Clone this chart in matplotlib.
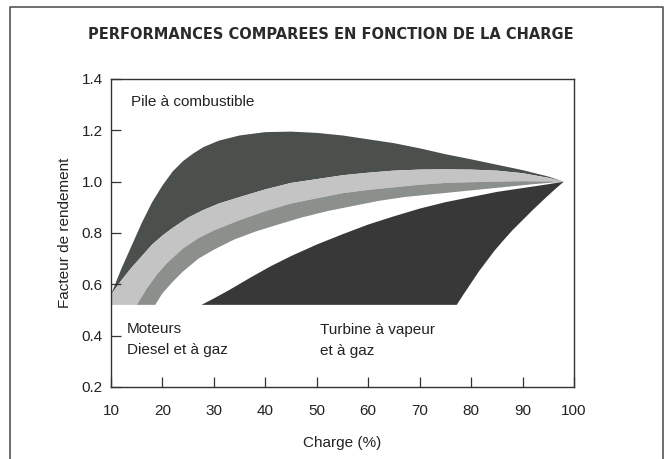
import matplotlib.pyplot as plt
from matplotlib.lines import Line2D

# ============================================================
# DATA
# ============================================================

# fuel cell band : upper edge
pile_top_x = [10.2, 12, 14, 16, 18, 20, 22, 24, 26, 28, 31, 35, 40, 45,
              50, 55, 60, 65, 70, 75, 80, 85, 90, 95, 98]
pile_top_y = [0.57, 0.66, 0.75, 0.84, 0.92, 0.985, 1.04, 1.08, 1.11,
              1.135, 1.16, 1.18, 1.193, 1.195, 1.19, 1.18, 1.165, 1.15,
              1.13, 1.107, 1.087, 1.066, 1.045, 1.02, 1.0]

# fuel cell band : lower edge (= top of light band)
pile_bot_x = [10.2, 12, 14, 16, 18, 20, 22, 25, 28, 31, 35, 40, 45, 50,
              55, 60, 65, 70, 75, 80, 85, 90, 95, 98]
pile_bot_y = [0.565, 0.615, 0.665, 0.71, 0.755, 0.79, 0.82, 0.86, 0.89,
              0.915, 0.94, 0.97, 0.995, 1.01, 1.025, 1.035, 1.043, 1.047,
              1.048, 1.047, 1.043, 1.033, 1.015, 1.0]

# light / medium boundary
mid_top_x = [15, 17, 19, 21, 24, 27, 30, 35, 40, 45, 50, 55, 60, 65, 70,
             75, 80, 85, 90, 95, 98]
mid_top_y = [0.52, 0.585, 0.64, 0.685, 0.74, 0.78, 0.81, 0.85, 0.885,
             0.915, 0.935, 0.955, 0.968, 0.978, 0.988, 0.995, 0.998, 1.0,
             1.002, 1.001, 1.0]

# medium band : lower edge
mid_bot_x = [18.6, 20, 22, 24, 27, 30, 34, 38, 42, 47, 52, 57, 62, 67, 72,
             77, 82, 87, 92, 98]
mid_bot_y = [0.52, 0.565, 0.61, 0.65, 0.70, 0.735, 0.775, 0.805, 0.83,
             0.86, 0.885, 0.905, 0.925, 0.94, 0.95, 0.96, 0.97, 0.98, 0.99,
             1.0]

# turbine : upper edge
turb_top_x = [27.6, 30, 33, 37, 41, 45, 50, 55, 60, 65, 70, 75, 80, 85,
              90, 95, 98]
turb_top_y = [0.52, 0.545, 0.578, 0.625, 0.67, 0.71, 0.755, 0.795, 0.833,
              0.865, 0.895, 0.92, 0.94, 0.96, 0.975, 0.99, 1.0]

# turbine : right edge
turb_right_x = [77.2, 78.5, 80, 81.5, 83, 84.5, 86, 88, 90, 92, 94, 96, 98]
turb_right_y = [0.52, 0.56, 0.605, 0.65, 0.69, 0.73, 0.765, 0.81, 0.85,
                0.89, 0.928, 0.965, 1.0]

floor_y = 0.52

x_ticks = [10, 20, 30, 40, 50, 60, 70, 80, 90, 100]
y_ticks = [0.2, 0.4, 0.6, 0.8, 1.0, 1.2, 1.4]

# ============================================================
# FIGURE
# ============================================================

plt.rcParams['font.family'] = ['Liberation Sans', 'DejaVu Sans']

fig = plt.figure(figsize=(6.67, 4.59), dpi=100)
fig.patch.set_facecolor('white')
ax = fig.add_axes([0.1664, 0.1569, 0.6942, 0.671])

ink = '#333333'
txt = '#222222'

# fuel cell band
ax.fill(pile_top_x + pile_bot_x[::-1],
        pile_top_y + pile_bot_y[::-1],
        color='#4b504d', lw=0)

# light band
ax.fill([pile_bot_x[0]] + mid_top_x + pile_bot_x[::-1],
        [floor_y] + mid_top_y + pile_bot_y[::-1],
        color='#c4c4c4', lw=0)

# medium band
ax.fill(mid_top_x + mid_bot_x[::-1],
        mid_top_y + mid_bot_y[::-1],
        color='#8b908d', lw=0)

# turbine
ax.fill(turb_top_x + turb_right_x[::-1],
        turb_top_y + turb_right_y[::-1],
        color='#383838', lw=0)

# ============================================================
# AXES
# ============================================================

ax.set_xlim(10, 100)
ax.set_ylim(0.2, 1.4)
ax.set_xticks(x_ticks)
ax.set_yticks(y_ticks)
ax.set_xticklabels([str(v) for v in x_ticks])
ax.set_yticklabels([f"{v:.1f}" for v in y_ticks])

ax.tick_params(direction='in', length=7, width=0.9, color=ink,
               labelsize=11, labelcolor=txt)
ax.tick_params(axis='x', pad=12)
ax.tick_params(axis='y', pad=6)

for s in ax.spines.values():
    s.set_color(ink)
    s.set_linewidth(1.0)

ax.set_xlabel("Charge (%)", fontsize=11, color=txt, labelpad=13)
ax.set_ylabel("Facteur de rendement", fontsize=11, color=txt, labelpad=7)

# ============================================================
# ANNOTATIONS
# ============================================================

ax.text(13.9, 1.31, "Pile à combustible", fontsize=11, color=txt,
        va='center', ha='left')
ax.text(13.1, 0.385, "Moteurs\nDiesel et à gaz", fontsize=11,
        color=txt, va='center', ha='left', linespacing=1.6)
ax.text(50.7, 0.38, "Turbine à vapeur\net à gaz", fontsize=11,
        color=txt, va='center', ha='left', linespacing=1.6)

fig.text(0.496, 0.924, "PERFORMANCES COMPAREES EN FONCTION DE LA CHARGE",
         fontsize=10.5, fontweight='heavy', color='#2a2a2a',
         family='DejaVu Sans', ha='center', va='center')

# outer frame of the figure
frame_x = [0.015, 0.015, 0.994, 0.994]
frame_y = [0.0, 0.985, 0.985, 0.0]
fig.add_artist(Line2D(frame_x, frame_y, color='#555555', lw=1.2,
                      transform=fig.transFigure))

fig.savefig("out.png", dpi=100)
